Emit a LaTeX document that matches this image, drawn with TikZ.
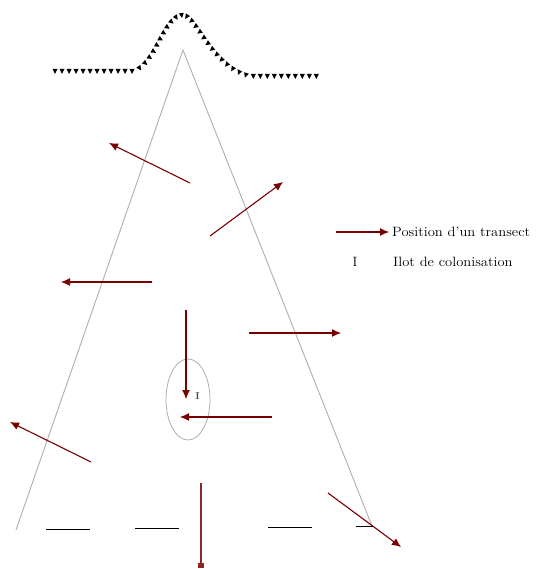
\documentclass[tikz,border=0pt]{standalone}
\usetikzlibrary{arrows.meta,decorations.markings}
\definecolor{arrred}{RGB}{120,0,0}
\definecolor{sidegray}{RGB}{175,175,175}
\tikzset{
  transect/.style={draw=arrred,line width=1.1pt,-{Latex[length=9pt,width=8pt]}},
  sideline/.style={draw=sidegray,line width=0.9pt},
  baseline/.style={draw=black,line width=1pt},
  legtext/.style={anchor=west,inner sep=0pt,font=\fontsize{13.5}{15}\selectfont},
  hill/.style={decorate,decoration={markings,
     mark=between positions 0 and 1 step 7pt with {\fill[black] (-2.5pt,0pt) -- (2.5pt,0pt) -- (0pt,-5pt) -- cycle;}}}
}
\begin{document}
\begin{tikzpicture}[x=1pt,y=-1pt]
\useasboundingbox (0,0) rectangle (545,569);
\fill[white] (0,0) rectangle (545,569);
% hill
\path[hill] (55,69) -- (133,69) .. controls (155,62) and (162,13) .. (183,13)
   .. controls (198,13) and (212,65) .. (250,74) -- (322,74);
% triangle sides
\coordinate (apex) at (183,50);
\coordinate (bl) at (16,530);
\coordinate (br) at (372,526);
\draw[sideline] (bl) -- (apex) -- (br);
% base dashes
\coordinate (d1a) at (46,529);  \coordinate (d1b) at (90,529);
\coordinate (d2a) at (135,528); \coordinate (d2b) at (179,528);
\coordinate (d3a) at (268,527); \coordinate (d3b) at (312,527);
\coordinate (d4a) at (356,526); \coordinate (d4b) at (373,526);
\draw[baseline] (d1a) -- (d1b);
\draw[baseline] (d2a) -- (d2b);
\draw[baseline] (d3a) -- (d3b);
\draw[baseline] (d4a) -- (d4b);
% ellipse
\draw[sidegray,line width=0.8pt] (188,399.5) ellipse [x radius=22, y radius=40.5];
\node[inner sep=0pt,text=black!70,font=\fontsize{10}{10}\selectfont\bfseries] (ilot) at (197.5,396.5) {I};
% transects
\coordinate (a1s) at (190,183); \coordinate (a1e) at (109,143);
\coordinate (a2s) at (210,236); \coordinate (a2e) at (283,182);
\coordinate (a3s) at (152,282); \coordinate (a3e) at (61,282);
\coordinate (a4s) at (186,310); \coordinate (a4e) at (186,399);
\coordinate (a5s) at (249,333); \coordinate (a5e) at (341,333);
\coordinate (a6s) at (272,417); \coordinate (a6e) at (180,417);
\coordinate (a7s) at (91,462);  \coordinate (a7e) at (10,422);
\coordinate (a8s) at (328,493); \coordinate (a8e) at (401,547);
\coordinate (a9s) at (201,483); \coordinate (a9e) at (201,568);
\draw[transect] (a1s) -- (a1e);
\draw[transect] (a2s) -- (a2e);
\draw[transect] (a3s) -- (a3e);
\draw[transect] (a4s) -- (a4e);
\draw[transect] (a5s) -- (a5e);
\draw[transect] (a6s) -- (a6e);
\draw[transect] (a7s) -- (a7e);
\draw[transect] (a8s) -- (a8e);
\draw[draw=arrred!85,line width=1.6pt,-{Square[length=5pt,width=6pt]}] (a9s) -- (a9e);
% legend
\coordinate (l1s) at (336,232); \coordinate (l1e) at (389,232);
\draw[transect] (l1s) -- (l1e);
\node[legtext] (t1) at (392,232) {\scalebox{1.08}[1]{Position d'un transect}};
\node[inner sep=0pt,font=\fontsize{13.5}{15}\selectfont] (l2) at (355,262) {I};
\node[legtext] (t2) at (393,262) {\scalebox{1.08}[1]{Ilot de colonisation}};
\end{tikzpicture}
\end{document}
